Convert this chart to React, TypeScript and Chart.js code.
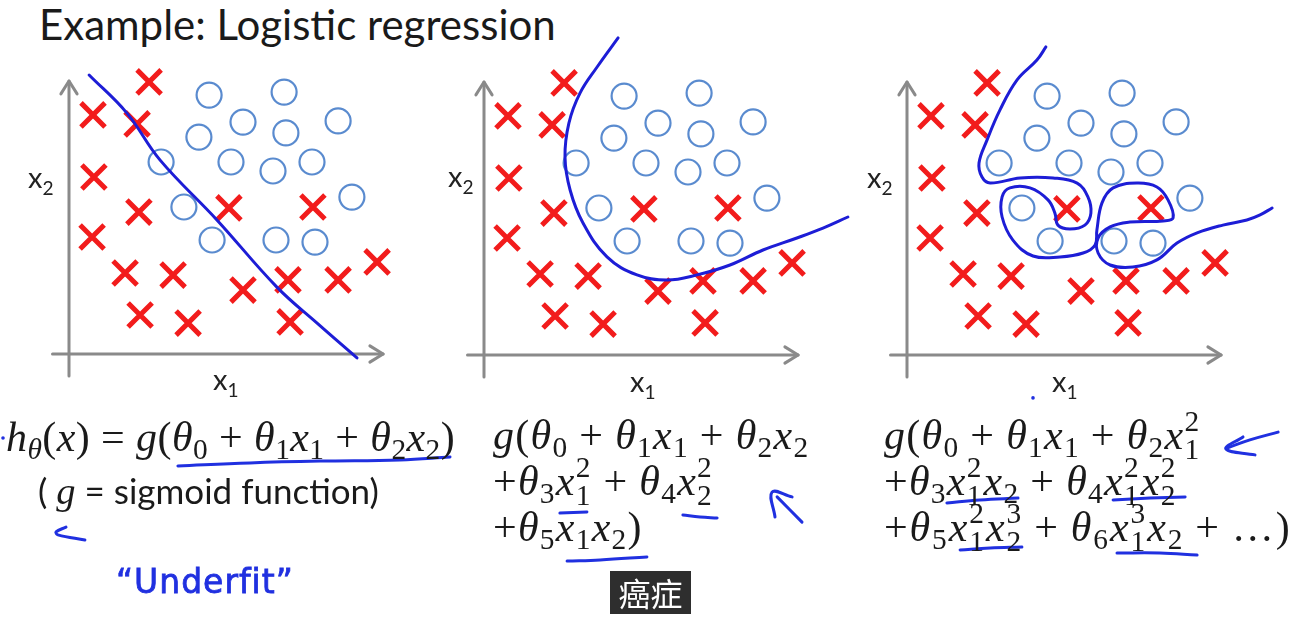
import React, { useEffect, useRef } from 'react';
import { Chart, registerables } from 'chart.js';

Chart.register(...registerables);

// ---------- data (units: 1 = 30px, origin at the axis crossing) ----------
const UNIT = 30;
const W = 1306;
const H = 623;

const titleText = 'Example: Logistic regression';
const panelOrigins: [number, number][] = [[69, 354], [484, 355], [907, 355]];

const crossX = [2.67, 0.8, 2.27, 0.83, 2.33, 5.33, 8.13, 0.77, 1.87, 3.47, 5.8, 7.3, 8.97, 10.27, 2.37, 3.97, 7.37];
const crossY = [9.07, 7.97, 7.67, 5.9, 4.73, 4.87, 4.9, 3.9, 2.7, 2.63, 2.13, 2.47, 2.47, 3.07, 1.3, 1.03, 1.07];

const circleX = [4.67, 7.17, 5.8, 7.23, 8.97, 4.33, 3.07, 5.4, 6.8, 8.1, 9.43, 3.83, 4.77, 6.9, 8.2];
const circleY = [8.63, 8.73, 7.73, 7.37, 7.77, 7.23, 6.4, 6.4, 6.1, 6.4, 5.23, 4.9, 3.8, 3.8, 3.73];

const linearBoundary: [number, number][] = [
  [0.67, 9.3], [1.93, 8.03], [3.03, 6.47], [4.93, 4.47], [6.93, 2.23], [8.27, 1.03], [9.6, -0.13],
];
const quadraticBoundary: [number, number][] = [
  [4.47, 10.57], [3.77, 9.6], [3.2, 8.73], [2.83, 7.73], [2.7, 6.6], [2.87, 5.5], [3.3, 4.4], [4.1, 3.27],
  [5.1, 2.67], [6.1, 2.5], [7.1, 2.67], [8.2, 3.0], [9.3, 3.5], [10.43, 3.9], [11.3, 4.23], [12.13, 4.6],
];
const overfitBoundary: [number, number][] = [
  [4.63, 10.27], [4.33, 9.83], [3.67, 9.17], [3.1, 8.17], [2.67, 7.17], [2.4, 6.4], [2.5, 5.93], [2.77, 5.73],
  [3.77, 5.9], [4.87, 5.9], [5.67, 5.73], [6.03, 5.27], [6.13, 4.73], [5.93, 4.33], [5.43, 4.2], [5.03, 4.33],
  [4.93, 4.73], [4.7, 5.17], [4.1, 5.57], [3.43, 5.57], [3.17, 5.27], [3.17, 4.6], [3.53, 3.83], [4.2, 3.3],
  [5.1, 3.27], [5.87, 3.4], [6.27, 3.67], [6.33, 4.17], [6.5, 5.07], [6.87, 5.57], [7.67, 5.73], [8.33, 5.6],
  [8.7, 5.17], [8.87, 4.57], [8.53, 4.47], [7.43, 4.43], [6.77, 4.27], [6.37, 3.9], [6.37, 3.4], [6.77, 3.0],
  [7.53, 2.93], [8.33, 3.17], [9.0, 3.73], [9.67, 4.07], [10.53, 4.33], [11.33, 4.5], [11.77, 4.67], [12.17, 4.9],
];

const axisXLine: [number, number][] = [[-0.55, 0], [10.47, 0]];
const axisYLine: [number, number][] = [[0, -0.73], [0, 9.1]];
const axisXHead: [number, number][] = [[10.03, 0.27], [10.47, 0], [10.03, -0.27]];
const axisYHead: [number, number][] = [[-0.27, 8.67], [0, 9.1], [0.27, 8.67]];

// hand-drawn annotation strokes and dots per panel
const notes1: [number, number][][] = [
  [[3.63, -3.73], [6.03, -3.63], [8.37, -3.57], [11.03, -3.53], [12.7, -3.43]],
  [[-0.1, -5.77], [-0.43, -5.93], [-0.37, -6.03], [0.53, -6.2]],
];
const dots1: [number, number][] = [[-2.2, -2.8]];
const notes2: [number, number][][] = [
  [[2.53, -5.27], [3.43, -5.23]],
  [[6.63, -5.33], [7.2, -5.4], [7.77, -5.43]],
  [[2.77, -6.87], [3.87, -6.83], [5.43, -6.73]],
  [[9.7, -5.4], [9.6, -4.57], [10.27, -4.73]],
  [[9.77, -4.73], [10.6, -5.57]],
];
const dots2: [number, number][] = [];
const notes3: [number, number][][] = [
  [[1.33, -4.93], [2.43, -4.83], [3.7, -4.77]],
  [[6.87, -4.83], [8.1, -4.77], [9.27, -4.73]],
  [[1.77, -6.5], [2.77, -6.43], [3.83, -6.4]],
  [[7.0, -6.6], [8.43, -6.6], [9.67, -6.67]],
  [[12.37, -2.57], [11.43, -2.83], [10.67, -3.1]],
  [[11.2, -2.73], [10.63, -3.13], [11.6, -3.33]],
];
const dots3: [number, number][] = [[4.2, -1.43]];

// ---------- styles ----------
const RED = '#f21c1c';
const LIGHT_BLUE = '#5a8bcf';
const DARK_BLUE = '#1d1dd6';
const PEN_BLUE = '#2030e0';
const GREY = '#8a8a8a';
const FONT_MATH = '"Liberation Serif", "Times New Roman", serif';
const FONT_SANS = 'Lato, "Open Sans", sans-serif';

const pts = (arr: [number, number][]) => arr.map(([x, y]) => ({ x, y }));

function lineDs(arr: [number, number][], color: string, width: number, tension: number) {
  return {
    data: pts(arr),
    showLine: true,
    borderColor: color,
    borderWidth: width,
    pointRadius: 0,
    tension,
    fill: false,
    borderCapStyle: 'round',
    borderJoinStyle: 'round',
  };
}

function makeConfig(
  origin: [number, number],
  boundary: [number, number][],
  notes: [number, number][][],
  dots: [number, number][]
) {
  const [ox, oy] = origin;
  const datasets: any[] = [];
  datasets.push(lineDs(boundary, DARK_BLUE, 3, 0.4));
  notes.forEach((n) => datasets.push(lineDs(n, PEN_BLUE, 3, 0.4)));
  datasets.push({
    data: pts(dots),
    pointStyle: 'circle',
    pointRadius: 1.8,
    borderWidth: 0,
    backgroundColor: PEN_BLUE,
    showLine: false,
  });
  datasets.push({
    data: crossX.map((x, i) => ({ x, y: crossY[i] })),
    pointStyle: 'crossRot',
    pointRadius: 17,
    borderColor: RED,
    borderWidth: 5,
    showLine: false,
  });
  datasets.push({
    data: circleX.map((x, i) => ({ x, y: circleY[i] })),
    pointStyle: 'circle',
    pointRadius: 12.5,
    borderColor: LIGHT_BLUE,
    backgroundColor: 'rgba(255,255,255,0)',
    borderWidth: 2.2,
    showLine: false,
  });
  datasets.push(lineDs(axisXLine, GREY, 3, 0));
  datasets.push(lineDs(axisYLine, GREY, 3, 0));
  datasets.push(lineDs(axisXHead, GREY, 3, 0));
  datasets.push(lineDs(axisYHead, GREY, 3, 0));
  return {
    type: 'scatter',
    data: { datasets },
    options: {
      responsive: false,
      animation: false,
      events: [],
      layout: { padding: 0, autoPadding: false },
      plugins: { legend: { display: false }, tooltip: { enabled: false } },
      scales: {
        x: { type: 'linear', display: false, min: -ox / UNIT, max: (W - ox) / UNIT },
        y: { type: 'linear', display: false, min: (oy - H) / UNIT, max: oy / UNIT },
      },
    },
  };
}

function PanelChart({ config }: { config: any }) {
  const ref = useRef<HTMLCanvasElement>(null);
  useEffect(() => {
    const chart = new Chart(ref.current as HTMLCanvasElement, config);
    return () => chart.destroy();
  }, []);
  return (
    <canvas
      ref={ref}
      width={W}
      height={H}
      style={{ position: 'absolute', left: 0, top: 0, width: W, height: H }}
    />
  );
}

// ---------- math text helpers ----------
const I = ({ children }: any) => <span style={{ fontStyle: 'italic' }}>{children}</span>;
const Sb = ({ children }: any) => (
  <span style={{ fontSize: '0.7em', verticalAlign: '-0.28em', lineHeight: 0 }}>{children}</span>
);
const SS = ({ sup, sub }: any) => (
  <span style={{ display: 'inline-block', position: 'relative', width: '0.4em', height: '0.1em' }}>
    <span style={{ position: 'absolute', left: 0, bottom: '0.42em', fontSize: '0.7em', lineHeight: 1 }}>{sup}</span>
    <span style={{ position: 'absolute', left: 0, top: '-0.32em', fontSize: '0.7em', lineHeight: 1 }}>{sub}</span>
  </span>
);
const Op = ({ c }: any) => <span style={{ margin: '0 0.26em' }}>{c}</span>;

const MATH_SIZE = 42;
function MathLine({ left, baseline, spacing = 0.03, children }: any) {
  return (
    <div
      style={{
        position: 'absolute',
        left,
        top: baseline - 0.8375 * MATH_SIZE,
        fontFamily: FONT_MATH,
        fontSize: MATH_SIZE,
        lineHeight: 1,
        letterSpacing: spacing + 'em',
        whiteSpace: 'nowrap',
        color: '#1a1a1a',
      }}
    >
      {children}
    </div>
  );
}

function AxisLabel({ left, baseline, sub }: any) {
  const fs = 29;
  return (
    <div
      style={{
        position: 'absolute',
        left,
        top: baseline - 0.887 * fs,
        fontFamily: FONT_SANS,
        fontSize: fs,
        lineHeight: 1,
        color: '#222',
        whiteSpace: 'nowrap',
      }}
    >
      x<span style={{ fontSize: '0.66em', verticalAlign: '-0.35em', lineHeight: 0 }}>{sub}</span>
    </div>
  );
}

export default function App() {
  const configs = [
    makeConfig(panelOrigins[0], linearBoundary, notes1, dots1),
    makeConfig(panelOrigins[1], quadraticBoundary, notes2, dots2),
    makeConfig(panelOrigins[2], overfitBoundary, notes3, dots3),
  ];
  return (
    <div
      style={{
        position: 'fixed',
        left: 0,
        top: 0,
        width: W,
        height: H,
        background: '#ffffff',
        overflow: 'hidden',
      }}
    >
      <div
        style={{
          position: 'absolute',
          left: 39,
          top: 40 - 0.887 * 42,
          fontFamily: FONT_SANS,
          fontSize: 42,
          lineHeight: 1,
          color: '#1a1a1a',
          whiteSpace: 'nowrap',
        }}
      >
        {titleText}
      </div>

      {configs.map((c, i) => (
        <PanelChart key={i} config={c} />
      ))}

      <AxisLabel left={28} baseline={188} sub="2" />
      <AxisLabel left={213} baseline={390} sub="1" />
      <AxisLabel left={448} baseline={187} sub="2" />
      <AxisLabel left={630} baseline={392} sub="1" />
      <AxisLabel left={867} baseline={188} sub="2" />
      <AxisLabel left={1052} baseline={392} sub="1" />

      {/* panel 1 formula */}
      <MathLine left={6} baseline={451} spacing={0.01}>
        <I>h</I>
        <Sb><I>θ</I></Sb>(<I>x</I>)<Op c="=" />
        <I>g</I>(<I>θ</I><Sb>0</Sb><Op c="+" /><I>θ</I><Sb>1</Sb><I>x</I><Sb>1</Sb><Op c="+" />
        <I>θ</I><Sb>2</Sb><I>x</I><Sb>2</Sb>)
      </MathLine>
      <div
        style={{
          position: 'absolute',
          left: 38,
          top: 503 - 0.887 * 35,
          fontFamily: FONT_SANS,
          fontSize: 35,
          lineHeight: 1,
          color: '#1a1a1a',
          whiteSpace: 'nowrap',
        }}
      >
        ({' '}
        <span style={{ fontFamily: FONT_MATH, fontStyle: 'italic', fontSize: '1.1em' }}>g</span> = sigmoid function)
      </div>
      <div
        style={{
          position: 'absolute',
          left: 116,
          top: 591 - 0.8 * 33,
          fontFamily: '"DejaVu Sans", sans-serif',
          fontSize: 33,
          lineHeight: 1,
          color: PEN_BLUE,
          whiteSpace: 'nowrap',
          letterSpacing: 1,
          WebkitTextStroke: '0.8px ' + PEN_BLUE,
        }}
      >
        “Underfit”
      </div>

      {/* panel 2 formula */}
      <MathLine left={493} baseline={449}>
        <I>g</I>(<I>θ</I><Sb>0</Sb><Op c="+" /><I>θ</I><Sb>1</Sb><I>x</I><Sb>1</Sb><Op c="+" />
        <I>θ</I><Sb>2</Sb><I>x</I><Sb>2</Sb>
      </MathLine>
      <MathLine left={493} baseline={495}>
        +<I>θ</I><Sb>3</Sb><I>x</I><SS sup="2" sub="1" /><Op c="+" /><I>θ</I><Sb>4</Sb><I>x</I><SS sup="2" sub="2" />
      </MathLine>
      <MathLine left={493} baseline={541}>
        +<I>θ</I><Sb>5</Sb><I>x</I><Sb>1</Sb><I>x</I><Sb>2</Sb>)
      </MathLine>

      {/* panel 3 formula */}
      <MathLine left={884} baseline={449}>
        <I>g</I>(<I>θ</I><Sb>0</Sb><Op c="+" /><I>θ</I><Sb>1</Sb><I>x</I><Sb>1</Sb><Op c="+" />
        <I>θ</I><Sb>2</Sb><I>x</I><SS sup="2" sub="1" />
      </MathLine>
      <MathLine left={884} baseline={495}>
        +<I>θ</I><Sb>3</Sb><I>x</I><SS sup="2" sub="1" /><I>x</I><Sb>2</Sb><Op c="+" />
        <I>θ</I><Sb>4</Sb><I>x</I><SS sup="2" sub="1" /><I>x</I><SS sup="2" sub="2" />
      </MathLine>
      <MathLine left={884} baseline={541} spacing={0.045}>
        +<I>θ</I><Sb>5</Sb><I>x</I><SS sup="2" sub="1" /><I>x</I><SS sup="3" sub="2" /><Op c="+" />
        <I>θ</I><Sb>6</Sb><I>x</I><SS sup="3" sub="1" /><I>x</I><Sb>2</Sb><Op c="+" />…)
      </MathLine>

      {/* subtitle */}
      <div
        style={{
          position: 'absolute',
          left: 610,
          top: 571,
          width: 81,
          height: 43,
          background: '#2e2e2e',
          color: '#ffffff',
          fontFamily: '"Noto Sans CJK SC", sans-serif',
          fontSize: 32,
          lineHeight: '43px',
          textAlign: 'center',
        }}
      >
        癌症
      </div>
    </div>
  );
}
